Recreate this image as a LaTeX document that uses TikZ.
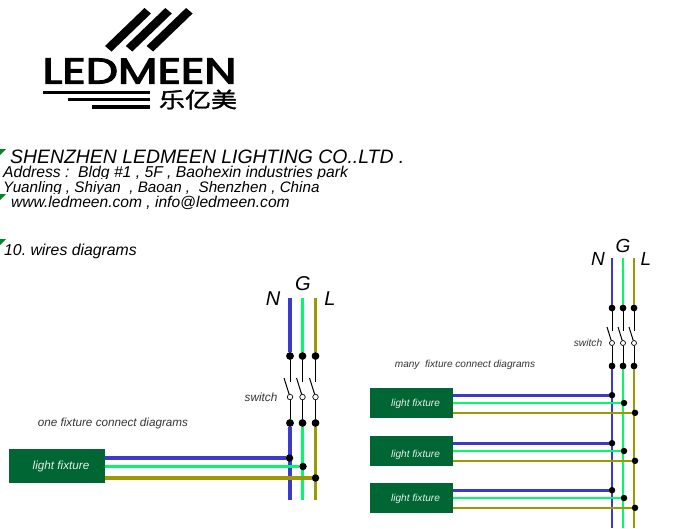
\documentclass[tikz,border=0pt]{standalone}
\usepackage{fontspec}
\setmainfont{Liberation Sans}
\newfontfamily\logofont[FakeBold=3]{Poppins}
\newfontfamily\cjkfont[FakeBold=1.5]{Noto Sans CJK SC}
\usetikzlibrary{arrows.meta}
\definecolor{wireN}{HTML}{3A3ACF}
\definecolor{wireG}{HTML}{00FA6A}
\definecolor{wireL}{HTML}{9C9A00}
\definecolor{fixgreen}{HTML}{006633}
\tikzset{
    dotnode/.style={circle, fill=black, inner sep=0pt, minimum size=7.5pt},
    opennode/.style={circle, draw=black, fill=white, line width=0.7pt, inner sep=0pt, minimum size=5.5pt},
    fixbox/.style={fill=fixgreen, draw=none, inner sep=0pt, text=white!90!fixgreen, font=\itshape\fontsize{11.7}{13}\selectfont},
    nwire/.style={draw=wireN, line width=3.2pt},
    gwire/.style={draw=wireG, line width=3.2pt},
    lwire/.style={draw=wireL, line width=3.2pt},
    contact/.style={draw=black, line width=1pt},
    phase/.style={font=\itshape\fontsize{#1}{#1}\selectfont},
    note/.style={text=black!80, font=\itshape\fontsize{#1}{#1}\selectfont},
    headline/.style={anchor=base west, inner sep=0pt, font=\itshape\fontsize{#1}{#1}\selectfont},
    corner/.style={fill=fixgreen!80!green, draw=none}
}
\begin{document}
\frenchspacing
\begin{tikzpicture}[x=1pt, y=-1pt]
    \useasboundingbox (0,0) rectangle (687,528);

    % logo
    \foreach \i in {0,1,2} {
        \fill[black, xshift=\i*20.8pt] (144.5,8) -- (151,13.5) -- (111.5,51.5) -- (105,46) -- cycle;
    }
    \node (brand) at (139.5,71)[inner sep=0pt] {\resizebox{194pt}{25pt}{\logofont LEDMEEN}};
    \node (brandcn) at (198,99.5)[inner sep=0pt] {\resizebox{78pt}{18pt}{\cjkfont 乐亿美}};
    \fill[black] (43,90.5) rectangle (150,94);
    \fill[black] (68,97.5) rectangle (150,101);
    \fill[black] (92,105) rectangle (150,108.5);

    % company lines
    \fill[corner] (0,149) -- (6,149) -- (0,155) -- cycle;
    \fill[corner] (0,194) -- (6,194) -- (0,200) -- cycle;
    \fill[corner] (0,239) -- (6,239) -- (0,245) -- cycle;
    \node (company) at (10,163)[headline=19.4] {SHENZHEN LEDMEEN LIGHTING CO..LTD .};
    \begin{scope}
        \clip (0,164) rectangle (400,178.5);
        \node (address) at (3,177)[headline=15.7] {Address :\ \ Bldg \#1 , 5F , Baohexin industries park};
    \end{scope}
    \begin{scope}
        \clip (0,179) rectangle (400,193);
        \node (town) at (3,192)[headline=15.2] {Yuanling , Shiyan\ \ , Baoan ,\ \ Shenzhen , China};
    \end{scope}
    \node (web) at (11,207)[headline=15.6] {www.ledmeen.com , info@ledmeen.com};
    \node (title) at (4,255)[headline=15.8] {10. wires diagrams};

    % one fixture
    \node (labNa) at (273,299)[phase=20] {N};
    \node (labGa) at (303,284)[phase=20] {G};
    \node (labLa) at (330,299)[phase=20] {L};
    \node (swa) at (261,397)[note=11.8] {switch};
    \node (onefix) at (113,423)[note=11.7] {one fixture connect diagrams};

    \foreach \n/\x in {n/290, g/302.5, l/315.5} {
        \coordinate (\n top) at (\x,298);
        \coordinate (\n end) at (\x,500);
        \node (\n up) at (\x,356)[dotnode] {};
        \node (\n low) at (\x,423)[dotnode] {};
        \node (\n sw) at (\x,397)[opennode] {};
        \coordinate (\n stub) at (\x,382);
        \coordinate (\n blade) at (\x-6,378);
    }
    \draw[nwire] (ntop) -- (nup);
    \draw[gwire] (gtop) -- (gup);
    \draw[lwire] (ltop) -- (lup);
    \draw[nwire] (nlow) -- (nend);
    \draw[gwire] (glow) -- (gend);
    \draw[lwire] (llow) -- (lend);
    \foreach \n in {n,g,l} {
        \draw[contact] (\n up) -- (\n stub);
        \draw[contact] (\n sw) -- (\n blade);
        \draw[contact] (\n sw) -- (\n low);
        \node at (\n up)[dotnode] {};
        \node at (\n low)[dotnode] {};
    }

    \node (fixone) at (57,466)[fixbox, minimum width=96pt, minimum height=34pt] {\hspace*{8pt}light fixture};
    \node (none) at (289.5,458)[dotnode] {};
    \node (gone) at (303,466.5)[dotnode] {};
    \node (lone) at (315.5,478)[dotnode] {};
    \draw[nwire] (fixone.east |- none) -- (none);
    \draw[gwire] (fixone.east |- gone) -- (gone);
    \draw[lwire] (fixone.east |- lone) -- (lone);

    % many fixtures
    \node (labNb) at (598,259)[phase=19] {N};
    \node (labGb) at (623,246)[phase=19] {G};
    \node (labLb) at (646,259)[phase=19] {L};
    \node (swb) at (588,343)[note=10.2] {switch};
    \node (manyfix) at (465,365)[note=10.1] {many\ \ fixture connect diagrams};

    \foreach \n/\x in {n/612, g/623, l/634} {
        \coordinate (\n topb) at (\x,258);
        \coordinate (\n endb) at (\x,528);
        \node (\n upb) at (\x,308)[dotnode, minimum size=6.5pt] {};
        \node (\n lowb) at (\x,366)[dotnode, minimum size=6.5pt] {};
        \node (\n swb) at (\x,343)[opennode, minimum size=5pt] {};
        \coordinate (\n stubb) at (\x,331);
        \coordinate (\n bladeb) at (\x-5,327);
    }
    \draw[nwire, line width=2.6pt] (ntopb) -- (nupb);
    \draw[gwire, line width=2.6pt] (gtopb) -- (gupb);
    \draw[lwire, line width=2.6pt] (ltopb) -- (lupb);
    \draw[nwire, line width=2.6pt] (nlowb) -- (nendb);
    \draw[gwire, line width=2.6pt] (glowb) -- (gendb);
    \draw[lwire, line width=2.6pt] (llowb) -- (lendb);
    \foreach \n in {n,g,l} {
        \draw[contact] (\n upb) -- (\n stubb);
        \draw[contact] (\n swb) -- (\n bladeb);
        \draw[contact] (\n swb) -- (\n lowb);
        \node at (\n upb)[dotnode, minimum size=6.5pt] {};
        \node at (\n lowb)[dotnode, minimum size=6.5pt] {};
    }

    \foreach \f/\y/\t in {a/388/404, b/436/455, c/483/499} {
        \node (fix\f) at (411.5,\y+15)[fixbox, minimum width=83pt, minimum height=30pt] {};
        \node (text\f) at (415.5,\t)[fixbox, fill=none, font=\itshape\fontsize{10.1}{12}\selectfont] {light fixture};
        \node (n\f) at (612,\y+7.2)[dotnode, minimum size=6.5pt] {};
        \node (g\f) at (624,\y+15)[dotnode, minimum size=6.5pt] {};
        \node (l\f) at (635,\y+24.8)[dotnode, minimum size=6.5pt] {};
        \draw[nwire, line width=2.6pt] (fix\f.east |- n\f) -- (n\f);
        \draw[gwire, line width=2.6pt] (fix\f.east |- g\f) -- (g\f);
        \draw[lwire, line width=2.6pt] (fix\f.east |- l\f) -- (l\f);
    }
\end{tikzpicture}
\end{document}
